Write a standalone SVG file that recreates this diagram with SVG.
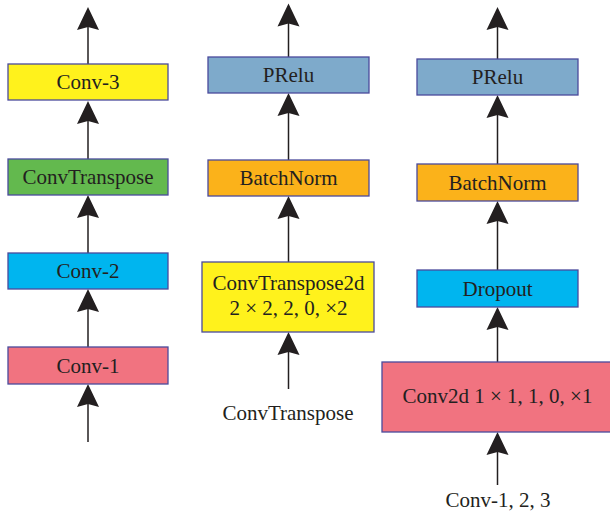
<svg xmlns="http://www.w3.org/2000/svg" width="610" height="518" viewBox="0 0 610 518">
<style>
.box{stroke:#4a4a9c;stroke-width:1.3}
.t{font-family:"Liberation Serif","Times New Roman",serif;font-size:21px;fill:#231f20;text-anchor:middle}
.ln{stroke:#231f20;stroke-width:1.5;fill:none}
.yellow{fill:#fff21c}
.green{fill:#63b94e}
.cyan{fill:#00b5ef}
.pink{fill:#f17380}
.blue{fill:#7eaacb}
.orange{fill:#fbb21a}
</style>
<defs>
<path id="ah" d="M0,0 L-11,23 L0,20 L11,23 Z" fill="#231f20"/>
</defs>
<g id="connectors">
<line class="ln" x1="88" y1="64" x2="88" y2="12"/><use href="#ah" x="88" y="7"/>
<line class="ln" x1="88" y1="159" x2="88" y2="106"/><use href="#ah" x="88" y="101"/>
<line class="ln" x1="88" y1="253" x2="88" y2="200"/><use href="#ah" x="88" y="195"/>
<line class="ln" x1="88" y1="347" x2="88" y2="294"/><use href="#ah" x="88" y="289"/>
<line class="ln" x1="88" y1="442" x2="88" y2="389"/><use href="#ah" x="88" y="384"/>
<line class="ln" x1="288.5" y1="57" x2="288.5" y2="8"/><use href="#ah" x="288.5" y="3.5"/>
<line class="ln" x1="288.5" y1="160" x2="288.5" y2="98"/><use href="#ah" x="288.5" y="93"/>
<line class="ln" x1="288.5" y1="262" x2="288.5" y2="201"/><use href="#ah" x="288.5" y="196"/>
<line class="ln" x1="288.5" y1="389" x2="288.5" y2="337"/><use href="#ah" x="288.5" y="332"/>
<line class="ln" x1="497.5" y1="59" x2="497.5" y2="12"/><use href="#ah" x="497.5" y="7"/>
<line class="ln" x1="497.5" y1="164" x2="497.5" y2="100"/><use href="#ah" x="497.5" y="95"/>
<line class="ln" x1="497.5" y1="270" x2="497.5" y2="206"/><use href="#ah" x="497.5" y="201"/>
<line class="ln" x1="497.5" y1="362" x2="497.5" y2="312"/><use href="#ah" x="497.5" y="307"/>
<line class="ln" x1="497.5" y1="485" x2="497.5" y2="437"/><use href="#ah" x="497.5" y="432"/>
</g>
<g id="conv3"><rect class="box yellow" x="8" y="64" width="160" height="36"/><text class="t" x="88" y="89">Conv-3</text></g>
<g id="convtranspose"><rect class="box green" x="8" y="159" width="160" height="36"/><text class="t" x="88" y="184">ConvTranspose</text></g>
<g id="conv2"><rect class="box cyan" x="8" y="253" width="160" height="36"/><text class="t" x="88" y="278">Conv-2</text></g>
<g id="conv1"><rect class="box pink" x="8" y="347" width="160" height="37"/><text class="t" x="88" y="372.5">Conv-1</text></g>
<g id="prelu1"><rect class="box blue" x="208" y="57" width="161" height="36"/><text class="t" x="288.5" y="82">PRelu</text></g>
<g id="batchnorm1"><rect class="box orange" x="208" y="160" width="161" height="36"/><text class="t" x="288.5" y="185">BatchNorm</text></g>
<g id="convtranspose2d"><rect class="box yellow" x="202" y="262" width="172" height="70"/><text class="t" x="288.5" y="290">ConvTranspose2d</text><text class="t" x="288.5" y="314.5">2 × 2, 2, 0, ×2</text></g>
<g id="label-convtranspose"><text class="t" x="288" y="419.5">ConvTranspose</text></g>
<g id="prelu2"><rect class="box blue" x="417" y="59" width="161" height="36"/><text class="t" x="497.5" y="84">PRelu</text></g>
<g id="batchnorm2"><rect class="box orange" x="417" y="164" width="161" height="37"/><text class="t" x="497.5" y="189.5">BatchNorm</text></g>
<g id="dropout"><rect class="box cyan" x="417" y="270" width="161" height="37"/><text class="t" x="497.5" y="295.5">Dropout</text></g>
<g id="conv2d"><rect class="box pink" x="382" y="362" width="232" height="70"/><text class="t" x="497.5" y="402.5">Conv2d 1 × 1, 1, 0, ×1</text></g>
<g id="label-conv123"><text class="t" x="498" y="507">Conv-1, 2, 3</text></g>
</svg>
